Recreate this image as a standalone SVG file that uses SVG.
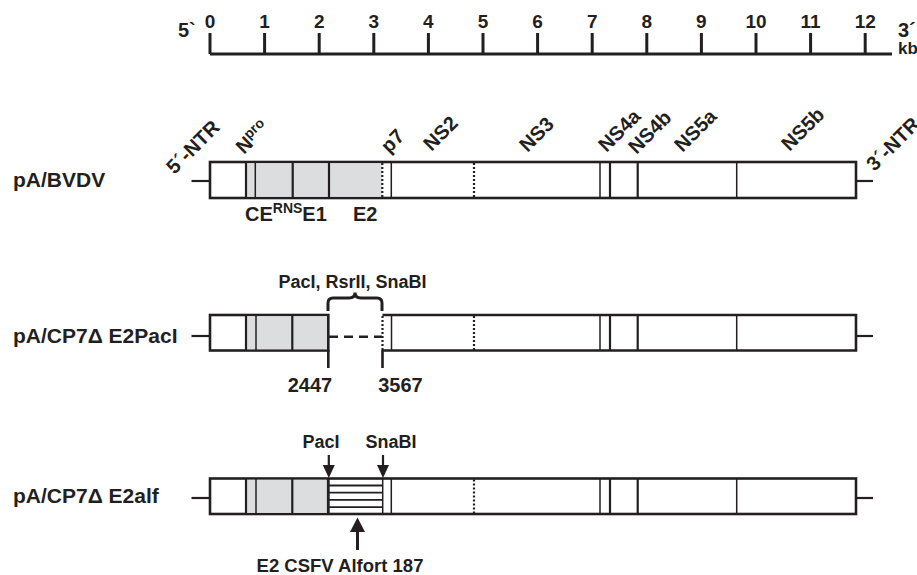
<svg xmlns="http://www.w3.org/2000/svg" width="917" height="575" viewBox="0 0 917 575">
<defs>
<style>
text{font-family:"Liberation Sans",Arial,sans-serif;font-weight:bold;fill:#231f20}
.lbl{font-size:21px}
.num{font-size:19px;text-anchor:middle}
.rot{font-size:20px}
.box{fill:#fff;stroke:#231f20;stroke-width:2.6}
.gray{fill:#dcdddf;stroke:none}
.ln{stroke:#231f20;stroke-width:2.2;fill:none}
.thin{stroke:#231f20;stroke-width:1.5;fill:none}
.dot{stroke:#231f20;stroke-width:2.2;stroke-dasharray:2 2;fill:none}
.ax{stroke:#231f20;stroke-width:3;fill:none}
.head{fill:#231f20;stroke:none}
</style>
</defs>

<g id="scale">
<path class="ax" d="M210,54 H892 M210,33 V54 M264.6,33 V54 M319.2,33 V54 M373.8,33 V54 M428.4,33 V54 M483,33 V54 M537.6,33 V54 M592.2,33 V54 M646.8,33 V54 M701.4,33 V54 M756,33 V54 M810.6,33 V54 M865.2,33 V54"/>
<text x="178" y="37" style="font-size:20px">5`</text>
<text class="num" x="210" y="28">0</text>
<text class="num" x="264.6" y="28">1</text>
<text class="num" x="319.2" y="28">2</text>
<text class="num" x="373.8" y="28">3</text>
<text class="num" x="428.4" y="28">4</text>
<text class="num" x="483" y="28">5</text>
<text class="num" x="537.6" y="28">6</text>
<text class="num" x="592.2" y="28">7</text>
<text class="num" x="646.8" y="28">8</text>
<text class="num" x="701.4" y="28">9</text>
<text class="num" x="756" y="28">10</text>
<text class="num" x="810.6" y="28">11</text>
<text class="num" x="865.2" y="28">12</text>
<text x="898" y="37" style="font-size:20px">3´</text>
<text x="898" y="54" style="font-size:17px">kb</text>
</g>

<g id="row1">
<text class="lbl" x="13" y="187">pA/BVDV</text>
<line class="ln" x1="191.5" y1="181" x2="210" y2="181"/>
<line class="ln" x1="856" y1="181" x2="873" y2="181"/>
<rect class="box" x="210" y="162" width="646" height="36"/>
<rect class="gray" x="247" y="163.3" width="135" height="33.4"/>
<path class="ln" d="M246,162 V198 M292.7,162 V198 M329,162 V198 M610,162 V198 M637.7,162 V198"/>
<path class="thin" d="M255.3,162 V198 M391.3,162 V198 M600,162 V198 M736.7,162 V198"/>
<path class="dot" d="M382.3,163 V198 M474,163 V198"/>
<text x="245" y="221" style="font-size:20px">CE<tspan style="font-size:14px" dy="-8">RNS</tspan><tspan dy="8">E1</tspan></text>
<text x="353" y="221" style="font-size:20px">E2</text>
<text class="rot" transform="translate(174.6,175) rotate(-45)">5´-NTR</text>
<text class="rot" transform="translate(244,155) rotate(-45)">N<tspan style="font-size:14px" dy="-7">pro</tspan></text>
<text class="rot" transform="translate(389,154) rotate(-45)">p7</text>
<text class="rot" transform="translate(431.6,152) rotate(-45)">NS2</text>
<text class="rot" transform="translate(527.6,153) rotate(-45)">NS3</text>
<text class="rot" transform="translate(606.6,153) rotate(-45)">NS4a</text>
<text class="rot" transform="translate(636.6,155) rotate(-45)">NS4b</text>
<text class="rot" transform="translate(682.6,153) rotate(-45)">NS5a</text>
<text class="rot" transform="translate(789.6,152) rotate(-45)">NS5b</text>
<text class="rot" transform="translate(874.6,172) rotate(-45)">3´-NTR</text>
</g>

<g id="row2">
<text class="lbl" x="13" y="343">pA/CP7Δ E2PacI</text>
<line class="ln" x1="191.5" y1="336" x2="210" y2="336"/>
<line class="ln" x1="856" y1="336" x2="873" y2="336"/>
<rect class="box" x="210" y="315" width="118.3" height="35.5"/>
<rect class="gray" x="247" y="316.3" width="80" height="33"/>
<path class="ln" d="M246,315 V350.5 M292.3,315 V350.5 M610,315 V350.5 M637.7,315 V350.5"/>
<path class="thin" d="M256,315 V350.5 M391.5,315 V350.5 M600,315 V350.5 M736.7,315 V350.5"/>
<path class="box" d="M382.5,315 H856 V350.5 H382.5" style="fill:none"/>
<path class="dot" d="M382.5,316 V350.5 M474,316 V350.5"/>
<line class="ln" x1="329" y1="336.7" x2="382" y2="336.7" style="stroke-width:2.6;stroke-dasharray:9 6"/>
<path class="ln" d="M328.3,350 V368 M382.5,350 V368" style="stroke-width:2.6"/>
<path class="ln" d="M328,311 L328,303 Q328,298 333,298 L349,298 Q355,298 355,292.5 Q355,298 361,298 L377,298 Q382,298 382,303 L382,311" style="stroke-width:3"/>
<text x="352.5" y="288" style="font-size:18px;text-anchor:middle">PacI, RsrII, SnaBI</text>
<text x="310" y="392" style="font-size:20px;text-anchor:middle">2447</text>
<text x="400.5" y="392" style="font-size:20px;text-anchor:middle">3567</text>
</g>

<g id="row3">
<text class="lbl" x="13" y="503">pA/CP7Δ E2alf</text>
<line class="ln" x1="191.5" y1="498" x2="210" y2="498"/>
<line class="ln" x1="856" y1="498" x2="873" y2="498"/>
<rect class="box" x="210" y="478.5" width="646" height="35.5"/>
<rect class="gray" x="247" y="479.8" width="81" height="33"/>
<path class="ln" d="M246,478.5 V514 M292.3,478.5 V514 M610,478.5 V514 M637.7,478.5 V514"/>
<path class="ln" d="M328.3,478.5 V514" style="stroke-width:2.8"/>
<path class="thin" d="M256,478.5 V514 M382.7,478.5 V514 M391.3,478.5 V514 M600,478.5 V514 M736.7,478.5 V514"/>
<path class="thin" d="M329,485.5 H382 M329,492.7 H382 M329,499.9 H382 M329,507.1 H382" style="stroke-width:1.8"/>
<path class="dot" d="M474,479.5 V514"/>
<text x="321" y="448" style="font-size:18px;text-anchor:middle">PacI</text>
<text x="391" y="448" style="font-size:18px;text-anchor:middle">SnaBI</text>
</g>

<g id="connectors">
<line class="ln" x1="328.8" y1="455" x2="328.8" y2="468"/>
<path class="head" d="M322.8,465 L334.8,465 L328.8,478 Z"/>
<line class="ln" x1="383" y1="455" x2="383" y2="468"/>
<path class="head" d="M377,465 L389,465 L383,478 Z"/>
<line class="ln" x1="357.5" y1="550" x2="357.5" y2="525" style="stroke-width:3"/>
<path class="head" d="M357.5,517.5 L365,532 L350,532 Z"/>
</g>
<text x="340" y="572" style="font-size:18.5px;text-anchor:middle">E2 CSFV Alfort 187</text>
</svg>
